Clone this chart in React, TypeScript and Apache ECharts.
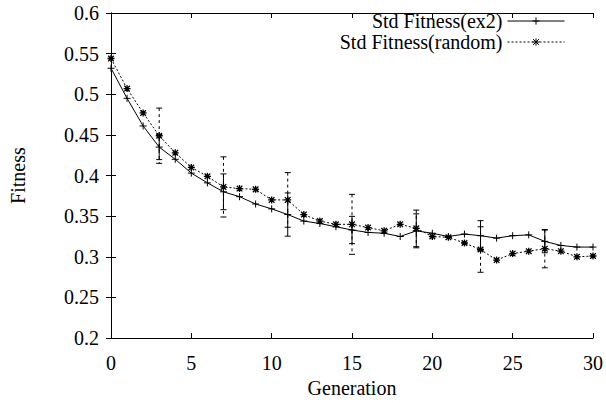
import React, { useEffect, useRef } from "react";
import * as echarts from "echarts";

const generations = [0, 1, 2, 3, 4, 5, 6, 7, 8, 9, 10, 11, 12, 13, 14, 15, 16, 17, 18, 19, 20, 21, 22, 23, 24, 25, 26, 27, 28, 29, 30];
const ex2Fitness = [0.532, 0.495, 0.461, 0.435, 0.42, 0.403, 0.391, 0.38, 0.374, 0.365, 0.359, 0.352, 0.344, 0.341, 0.337, 0.333, 0.33, 0.329, 0.325, 0.332, 0.329, 0.325, 0.328, 0.326, 0.323, 0.326, 0.327, 0.319, 0.314, 0.312, 0.312];
const randomFitness = [0.544, 0.507, 0.477, 0.449, 0.428, 0.41, 0.399, 0.386, 0.384, 0.383, 0.37, 0.37, 0.352, 0.344, 0.34, 0.34, 0.336, 0.332, 0.34, 0.335, 0.325, 0.324, 0.317, 0.309, 0.296, 0.304, 0.307, 0.31, 0.307, 0.3, 0.301];
const errorGenerations = [3, 7, 11, 15, 19, 23, 27];
const ex2Error = [0.0154, 0.022, 0.0266, 0.0168, 0.0209, 0.0185, 0.014];
const randomError = [0.034, 0.037, 0.0336, 0.0369, 0.0225, 0.028, 0.0235];
const xTicks = [0, 5, 10, 15, 20, 25, 30];
const yTicks = [0.2, 0.25, 0.3, 0.35, 0.4, 0.45, 0.5, 0.55, 0.6];

const NAME_EX2 = "Std Fitness(ex2)";
const NAME_RANDOM = "Std Fitness(random)";
const FONT = "Liberation Serif";
const FS = 20;

const plusPath = "path://M0,5L10,5M5,0L5,10";
const starPath = "path://M0,5L10,5M5,0L5,10M1,1L9,9M9,1L1,9";

function errorSeries(values: number[], errs: number[], dashed: boolean, name: string) {
  const data = errorGenerations.map((g, i) => [g, values[generations.indexOf(g)], errs[i]]);
  return {
    type: "custom",
    name,
    xAxisIndex: 0,
    yAxisIndex: 0,
    data,
    z: 1,
    renderItem: (params: any, api: any) => {
      const x = api.value(0);
      const y = api.value(1);
      const e = api.value(2);
      const top = api.coord([x, y + e]);
      const bot = api.coord([x, y - e]);
      const style = { stroke: "#000", lineWidth: 1, lineDash: dashed ? [3, 3] : null };
      const cap = 3;
      return {
        type: "group",
        children: [
          { type: "line", shape: { x1: top[0], y1: top[1], x2: bot[0], y2: bot[1] }, style },
          { type: "line", shape: { x1: top[0] - cap, y1: top[1], x2: top[0] + cap, y2: top[1] }, style: { stroke: "#000", lineWidth: 1 } },
          { type: "line", shape: { x1: bot[0] - cap, y1: bot[1], x2: bot[0] + cap, y2: bot[1] }, style: { stroke: "#000", lineWidth: 1 } },
        ],
      };
    },
  };
}

export default function App() {
  const ref = useRef<HTMLDivElement>(null);
  useEffect(() => {
    if (!ref.current) return;
    const chart = echarts.init(ref.current, undefined, { renderer: "svg" });
    const axisCommon = {
      type: "value",
      axisLine: { show: true, lineStyle: { color: "#000", width: 1 } },
      axisTick: { show: true, inside: true, length: 5, lineStyle: { color: "#000" } },
      splitLine: { show: false },
    };
    const legendCommon = {
      orient: "vertical",
      align: "right",
      right: 36,
      itemWidth: 57,
      itemHeight: 9,
      itemGap: 0,
      lineStyle: { width: 1 },
      itemStyle: { borderWidth: 1 },
      textStyle: { fontFamily: FONT, fontSize: FS, color: "#000" },
      selectedMode: false,
    };
    chart.setOption({
      animation: false,
      backgroundColor: "#fff",
      textStyle: { fontFamily: FONT },
      grid: { left: 107, right: 11, top: 13, bottom: 52 },
      legend: [
        { ...legendCommon, top: 6, data: [NAME_EX2] },
        { ...legendCommon, top: 27, data: [NAME_RANDOM] },
      ],
      xAxis: [
        {
          ...axisCommon,
          min: xTicks[0],
          max: xTicks[xTicks.length - 1],
          interval: xTicks[1] - xTicks[0],
          name: "Generation",
          nameLocation: "middle",
          nameGap: 34,
          nameTextStyle: { fontFamily: FONT, fontSize: FS, color: "#000" },
          axisLabel: { fontFamily: FONT, fontSize: FS, color: "#000", margin: 15 },
        },
        {
          ...axisCommon,
          position: "top",
          min: xTicks[0],
          max: xTicks[xTicks.length - 1],
          interval: xTicks[1] - xTicks[0],
          axisLabel: { show: false },
        },
      ],
      yAxis: [
        {
          ...axisCommon,
          min: yTicks[0],
          max: yTicks[yTicks.length - 1],
          interval: 0.05,
          name: "Fitness",
          nameLocation: "middle",
          nameGap: 83,
          nameTextStyle: { fontFamily: FONT, fontSize: FS, color: "#000" },
          axisLabel: { fontFamily: FONT, fontSize: FS, color: "#000", margin: 12 },
        },
        {
          ...axisCommon,
          position: "right",
          min: yTicks[0],
          max: yTicks[yTicks.length - 1],
          interval: 0.05,
          axisLabel: { show: false },
        },
      ],
      series: [
        {
          type: "line",
          name: NAME_EX2,
          data: generations.map((g, i) => [g, ex2Fitness[i]]),
          symbol: plusPath,
          symbolSize: 7,
          showAllSymbol: true,
          lineStyle: { color: "#000", width: 1, type: "solid" },
          itemStyle: { color: "#000", borderColor: "#000", borderWidth: 1 },
          z: 3,
        },
        {
          type: "line",
          name: NAME_RANDOM,
          data: generations.map((g, i) => [g, randomFitness[i]]),
          symbol: starPath,
          symbolSize: 7,
          showAllSymbol: true,
          lineStyle: { color: "#000", width: 1, type: [2, 2] },
          itemStyle: { color: "#000", borderColor: "#000", borderWidth: 1.3 },
          z: 3,
        },
        errorSeries(ex2Fitness, ex2Error, false, "ex2 error"),
        errorSeries(randomFitness, randomError, true, "random error"),
      ],
    });
    return () => chart.dispose();
  }, []);
  return <div ref={ref} style={{ position: "absolute", left: 0, top: 0, width: 606, height: 403 }} />;
}
